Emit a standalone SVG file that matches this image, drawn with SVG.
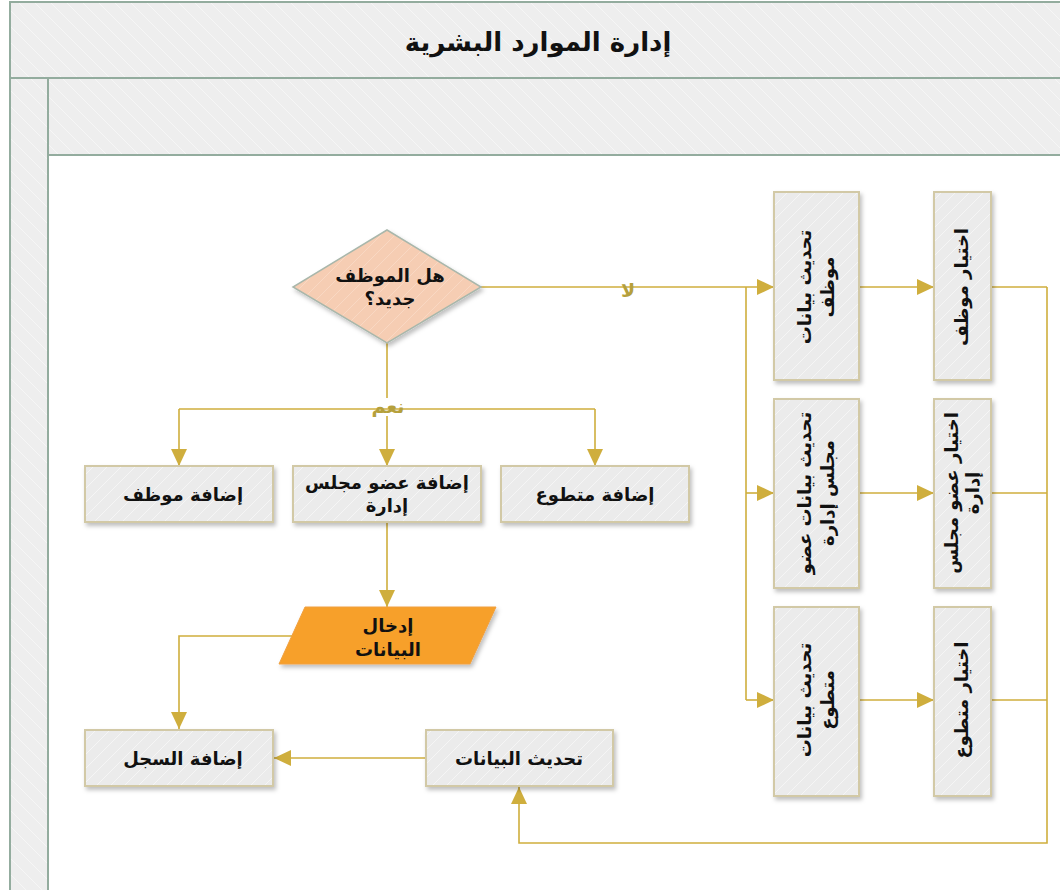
<svg xmlns="http://www.w3.org/2000/svg" width="1060" height="890" viewBox="0 0 1060 890">
  <defs>
    <pattern id="hatchBand" patternUnits="userSpaceOnUse" width="16" height="16">
      <rect width="16" height="16" fill="#eeeeee"/>
      <path d="M0,0 L16,16 M-4,12 L4,20 M12,-4 L20,4" stroke="#f6f6f6" stroke-width="1"/>
    </pattern>
    <pattern id="hatchBox" patternUnits="userSpaceOnUse" width="14" height="14">
      <rect width="14" height="14" fill="#ebebeb"/>
      <path d="M0,14 L14,0 M-4,4 L4,-4 M10,18 L18,10" stroke="#f5f5f5" stroke-width="1"/>
    </pattern>
    <pattern id="hatchDiamond" patternUnits="userSpaceOnUse" width="14" height="14">
      <rect width="14" height="14" fill="#f6cdb3"/>
      <path d="M0,14 L14,0 M-4,4 L4,-4 M10,18 L18,10" stroke="#f9d8c3" stroke-width="1"/>
    </pattern>
    <filter id="shadow" x="-20%" y="-20%" width="140%" height="140%">
      <feDropShadow dx="2" dy="3" stdDeviation="2" flood-color="#000" flood-opacity="0.25"/>
    </filter>
    <marker id="arrow" markerUnits="userSpaceOnUse" markerWidth="18" markerHeight="16" refX="17" refY="8" orient="auto">
      <path d="M0,0 L17,8 L0,16 z" fill="#cfae3d"/>
    </marker>
  </defs>
  <style>
    .band { fill: url(#hatchBand); stroke: #93ac9e; stroke-width: 2; }
    .box { fill: url(#hatchBox); stroke: #d2c9a6; stroke-width: 2; filter: url(#shadow); }
    .lbl { font-family: "DejaVu Sans", "Noto Sans", sans-serif; font-weight: bold; font-size: 18px; fill: #111; text-anchor: middle; }
    .title { font-family: "DejaVu Sans", "Noto Sans", sans-serif; font-weight: bold; font-size: 26px; fill: #111; text-anchor: middle; }
    .cond { font-family: "DejaVu Sans", "Noto Sans", sans-serif; font-weight: bold; font-size: 19px; fill: #b5a03c; text-anchor: middle; }
    .wire { fill: none; stroke: #cfae3d; stroke-width: 1.6; }
  </style>

  <!-- page background -->
  <rect x="0" y="0" width="1060" height="890" fill="#ffffff"/>

  <!-- pool frame and lanes -->
  <g id="pool">
    <rect class="band" x="10" y="2" width="1060" height="76"/>
    <rect class="band" x="10" y="78" width="38" height="820"/>
    <rect class="band" x="48" y="78" width="1020" height="77"/>
    <rect x="48" y="155" width="1020" height="740" fill="#ffffff" stroke="#93ac9e" stroke-width="2"/>
    <text class="title" x="538" y="51">إدارة الموارد البشرية</text>
  </g>

  <!-- connectors -->
  <g id="connectors">
    <!-- yes branch -->
    <path class="wire" d="M387,343 V398"/>
    <path class="wire" d="M179,409 H595"/>
    <path class="wire" d="M179,409 V466" marker-end="url(#arrow)"/>
    <path class="wire" d="M387,416 V466" marker-end="url(#arrow)"/>
    <path class="wire" d="M595,409 V466" marker-end="url(#arrow)"/>
    <path class="wire" d="M387,522 V607" marker-end="url(#arrow)"/>
    <path class="wire" d="M292,636 H179 V729" marker-end="url(#arrow)"/>
    <path class="wire" d="M426,758 H274" marker-end="url(#arrow)"/>
    <!-- no branch -->
    <path class="wire" d="M481,287 H774" marker-end="url(#arrow)"/>
    <path class="wire" d="M746,287 V700"/>
    <path class="wire" d="M746,493 H774" marker-end="url(#arrow)"/>
    <path class="wire" d="M746,700 H774" marker-end="url(#arrow)"/>
    <path class="wire" d="M859,287 H934" marker-end="url(#arrow)"/>
    <path class="wire" d="M859,493 H934" marker-end="url(#arrow)"/>
    <path class="wire" d="M859,700 H934" marker-end="url(#arrow)"/>
    <path class="wire" d="M991,287 H1047"/>
    <path class="wire" d="M991,493 H1047"/>
    <path class="wire" d="M991,700 H1047"/>
    <path class="wire" d="M1047,287 V843 H519 V787" stroke-width="2" marker-end="url(#arrow)"/>
    <text class="cond" x="628" y="297">لا</text>
    <text class="cond" x="388" y="413">نعم</text>
  </g>

  <!-- decision -->
  <g id="decision">
    <polygon points="387,230 481,287 387,343 293,287" fill="url(#hatchDiamond)" stroke="#a9b7ab" stroke-width="1.5" filter="url(#shadow)"/>
    <text class="lbl" x="390" y="282">هل الموظف</text>
    <text class="lbl" x="390" y="305">جديد؟</text>
  </g>

  <!-- add records -->
  <g id="add-employee">
    <rect class="box" x="85" y="466" width="188" height="56"/>
    <text class="lbl" x="183" y="501">إضافة موظف</text>
  </g>
  <g id="add-board-member">
    <rect class="box" x="293" y="466" width="188" height="56"/>
    <text class="lbl" x="387" y="489">إضافة عضو مجلس</text>
    <text class="lbl" x="387" y="512">إدارة</text>
  </g>
  <g id="add-volunteer">
    <rect class="box" x="501" y="466" width="188" height="56"/>
    <text class="lbl" x="595" y="501">إضافة متطوع</text>
  </g>

  <!-- data entry -->
  <g id="enter-data">
    <polygon points="305,607 496,607 470,664 279,664" fill="#f7a02a" stroke="#f0a040" stroke-width="1" filter="url(#shadow)"/>
    <text class="lbl" x="388" y="632">إدخال</text>
    <text class="lbl" x="388" y="656">البيانات</text>
  </g>

  <g id="add-record">
    <rect class="box" x="85" y="730" width="188" height="56"/>
    <text class="lbl" x="183" y="765">إضافة السجل</text>
  </g>
  <g id="update-data">
    <rect class="box" x="426" y="730" width="187" height="56"/>
    <text class="lbl" x="519" y="765">تحديث البيانات</text>
  </g>

  <!-- update column -->
  <g id="update-employee">
    <rect class="box" x="774" y="192" width="85" height="188"/>
    <text class="lbl" transform="translate(816,287) rotate(-90)"><tspan x="0" y="-5">تحديث بيانات</tspan><tspan x="0" y="18">موظف</tspan></text>
  </g>
  <g id="update-board-member">
    <rect class="box" x="774" y="399" width="85" height="189"/>
    <text class="lbl" transform="translate(816,493) rotate(-90)"><tspan x="0" y="-5">تحديث بيانات عضو</tspan><tspan x="0" y="18">مجلس إدارة</tspan></text>
  </g>
  <g id="update-volunteer">
    <rect class="box" x="774" y="607" width="85" height="189"/>
    <text class="lbl" transform="translate(816,700) rotate(-90)"><tspan x="0" y="-5">تحديث بيانات</tspan><tspan x="0" y="18">متطوع</tspan></text>
  </g>

  <!-- select column -->
  <g id="select-employee">
    <rect class="box" x="934" y="192" width="57" height="188"/>
    <text class="lbl" transform="translate(962,287) rotate(-90)" y="6">اختيار موظف</text>
  </g>
  <g id="select-board-member">
    <rect class="box" x="934" y="399" width="57" height="189"/>
    <text class="lbl" transform="translate(962,493) rotate(-90)"><tspan x="0" y="-4">اختيار عضو مجلس</tspan><tspan x="0" y="17">إدارة</tspan></text>
  </g>
  <g id="select-volunteer">
    <rect class="box" x="934" y="607" width="57" height="189"/>
    <text class="lbl" transform="translate(962,700) rotate(-90)" y="6">اختيار متطوع</text>
  </g>
</svg>
